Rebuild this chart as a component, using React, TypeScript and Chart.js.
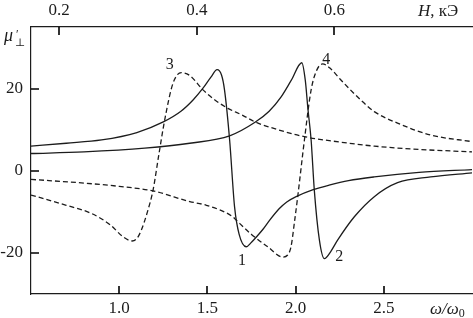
import React, { useEffect, useRef } from 'react';
import { Chart, registerables } from 'chart.js';

Chart.register(...registerables);

// ω/ω0 axis (bottom), H in kOe axis (top), μ'⊥ (left)
const xTicks = [1.0, 1.5, 2.0, 2.5];
const hTicks = [0.2, 0.4, 0.6];
const yTicks = [-20, 0, 20];

const curve1X = [0.5, 0.7, 0.9, 1.1, 1.25, 1.35, 1.42, 1.475, 1.52, 1.555, 1.58, 1.597, 1.626, 1.654, 1.68, 1.72, 1.75, 1.78, 1.814, 1.85, 1.908, 1.95, 2.003, 2.1, 2.19, 2.3, 2.446, 2.7, 3.0];
const curve1Y = [6.0, 6.7, 7.5, 9.3, 11.9, 14.5, 17.3, 20.1, 22.8, 24.6, 23.3, 19.7, 7.5, -8.8, -15.5, -18.5, -17.4, -16.0, -14.3, -12.2, -9.2, -7.6, -6.3, -4.6, -3.5, -2.4, -1.5, -0.4, 0.3];

const curve2X = [0.5, 0.8, 1.145, 1.4, 1.626, 1.77, 1.85, 1.918, 1.975, 2.035, 2.055, 2.07, 2.088, 2.106, 2.135, 2.163, 2.2, 2.238, 2.333, 2.446, 2.578, 2.766, 3.0];
const curve2Y = [4.2, 4.6, 5.5, 6.7, 8.5, 11.8, 14.5, 18.0, 22.0, 26.3, 22.0, 15.0, 7.5, -4.7, -16.9, -21.4, -19.6, -16.9, -11.2, -6.3, -2.9, -1.5, -0.5];

const curve3X = [0.5, 0.7, 0.843, 0.95, 1.02, 1.073, 1.1, 1.125, 1.16, 1.192, 1.225, 1.258, 1.305, 1.352, 1.4, 1.475, 1.55, 1.616, 1.7, 1.77, 1.9, 2.05, 2.25, 2.446, 2.7, 3.0];
const curve3Y = [-5.9, -8.4, -10.4, -13.2, -16.0, -17.1, -16.5, -14.5, -10.0, -4.7, 4.0, 12.4, 21.3, 23.9, 23.2, 19.7, 17.0, 15.2, 13.5, 11.9, 10.0, 8.3, 7.0, 6.0, 5.2, 4.6];

const curve4X = [0.5, 0.8, 1.0, 1.192, 1.4, 1.494, 1.644, 1.663, 1.75, 1.842, 1.927, 1.955, 1.974, 1.995, 2.012, 2.05, 2.088, 2.12, 2.153, 2.2, 2.257, 2.37, 2.446, 2.578, 2.766, 3.0];
const curve4Y = [-2.1, -3.0, -3.8, -4.9, -7.5, -8.4, -11.2, -12.0, -15.5, -18.5, -21.0, -20.5, -18.5, -12.0, -6.3, 7.5, 19.7, 24.5, 26.0, 24.8, 22.1, 17.2, 14.4, 11.6, 8.7, 7.1];

const curveLabels = ['1', '2', '3', '4'];
const labelX = [1.696, 2.248, 1.286, 2.174];
const labelY = [-21.8, -20.9, 25.8, 26.9];

const INK = '#1c1c1c';
const SERIF = '"Liberation Serif", "DejaVu Serif", serif';

const toPoints = (xs: number[], ys: number[]) => xs.map((x, i) => ({ x, y: ys[i] }));

const decorPlugin = {
  id: 'decor',
  afterDraw(chart: any) {
    const ctx = chart.ctx as CanvasRenderingContext2D;
    const xs = chart.scales.x;
    const hs = chart.scales.h;
    const ys = chart.scales.y;
    const bottom = xs.top;
    const top = hs.bottom;
    const left = ys.right;
    const tl = 8;
    ctx.save();
    ctx.setLineDash([]);
    ctx.globalAlpha = 1;
    ctx.strokeStyle = '#000';
    ctx.lineWidth = 1.6;
    ctx.beginPath();
    xTicks.forEach((v) => {
      const p = Math.round(xs.getPixelForValue(v));
      ctx.moveTo(p, bottom);
      ctx.lineTo(p, bottom - tl);
    });
    hTicks.forEach((v) => {
      const p = Math.round(hs.getPixelForValue(v));
      ctx.moveTo(p, top);
      ctx.lineTo(p, top + tl);
    });
    yTicks.forEach((v) => {
      const p = Math.round(ys.getPixelForValue(v));
      ctx.moveTo(left, p);
      ctx.lineTo(left + tl, p);
    });
    ctx.stroke();

    // curve numbers
    ctx.fillStyle = INK;
    ctx.font = `16px ${SERIF}`;
    ctx.textAlign = 'center';
    ctx.textBaseline = 'middle';
    curveLabels.forEach((t, i) => {
      ctx.fillText(t, xs.getPixelForValue(labelX[i]), ys.getPixelForValue(labelY[i]));
    });

    // axis titles
    ctx.textAlign = 'left';
    ctx.textBaseline = 'alphabetic';
    ctx.font = `italic 18px ${SERIF}`;
    ctx.fillText('μ', 4, 41);
    ctx.font = `12px ${SERIF}`;
    ctx.fillText('′', 16, 38);
    ctx.font = `11px ${SERIF}`;
    ctx.fillText('⊥', 15, 46);

    let x0 = 430;
    const by = 314;
    ctx.font = `italic 17px ${SERIF}`;
    ctx.fillText('ω/ω', x0, by);
    x0 += ctx.measureText('ω/ω').width;
    ctx.font = `12px ${SERIF}`;
    ctx.fillText('0', x0, by + 3);

    let hx = 418;
    const hy = 16;
    ctx.font = `italic 17px ${SERIF}`;
    ctx.fillText('H', hx, hy);
    hx += ctx.measureText('H').width;
    ctx.font = `17px ${SERIF}`;
    ctx.fillText(', кЭ', hx, hy);
    ctx.restore();
  },
};

export default function App() {
  const ref = useRef<HTMLCanvasElement>(null);

  useEffect(() => {
    document.body.style.margin = '0';
    const canvas = ref.current!;
    const tickFont = { family: SERIF, size: 17 };
    const lineDs = (xs: number[], ys: number[], dashed: boolean) => ({
      data: toPoints(xs, ys),
      borderColor: INK,
      borderWidth: 1.3,
      borderDash: dashed ? [5, 3] : [],
      pointRadius: 0,
      fill: false,
      cubicInterpolationMode: 'monotone' as const,
      xAxisID: 'x',
      yAxisID: 'y',
    });
    const chart = new Chart(canvas, {
      type: 'line',
      data: {
        datasets: [
          lineDs(curve1X, curve1Y, false),
          lineDs(curve2X, curve2Y, false),
          lineDs(curve3X, curve3Y, true),
          lineDs(curve4X, curve4Y, true),
        ],
      },
      options: {
        responsive: false,
        maintainAspectRatio: false,
        animation: false,
        layout: { padding: { left: 0, right: 1, top: 0, bottom: 0 } },
        plugins: { legend: { display: false }, tooltip: { enabled: false } },
        scales: {
          x: {
            type: 'linear',
            position: 'bottom',
            min: 0.5,
            max: 3.0,
            afterBuildTicks: (s: any) => {
              s.ticks = xTicks.map((value) => ({ value }));
            },
            afterFit: (s: any) => {
              s.height = 24;
            },
            grid: { display: false, drawTicks: false },
            border: { display: true, color: INK, width: 1.2 },
            ticks: {
              font: tickFont,
              color: INK,
              padding: 4,
              maxRotation: 0,
              callback: (v: any) => Number(v).toFixed(1),
            },
          },
          h: {
            type: 'linear',
            position: 'top',
            min: 0.159,
            max: 0.8,
            afterBuildTicks: (s: any) => {
              s.ticks = hTicks.map((value) => ({ value }));
            },
            afterFit: (s: any) => {
              s.height = 27;
            },
            grid: { display: false, drawTicks: false },
            border: { display: true, color: INK, width: 1.2 },
            ticks: {
              font: tickFont,
              color: INK,
              padding: 6,
              maxRotation: 0,
              callback: (v: any) => Number(v).toFixed(1),
            },
          },
          y: {
            type: 'linear',
            position: 'left',
            min: -30,
            max: 35,
            afterBuildTicks: (s: any) => {
              s.ticks = yTicks.map((value) => ({ value }));
            },
            afterFit: (s: any) => {
              s.width = 31;
            },
            grid: { display: false, drawTicks: false },
            border: { display: true, color: INK, width: 1.2 },
            ticks: {
              font: tickFont,
              color: INK,
              padding: 8,
              callback: (v: any) => String(v),
            },
          },
        },
      },
      plugins: [decorPlugin],
    });
    return () => chart.destroy();
  }, []);

  return (
    <div style={{ width: 473, height: 318 }}>
      <canvas ref={ref} width={473} height={318} style={{ display: 'block' }} />
    </div>
  );
}
